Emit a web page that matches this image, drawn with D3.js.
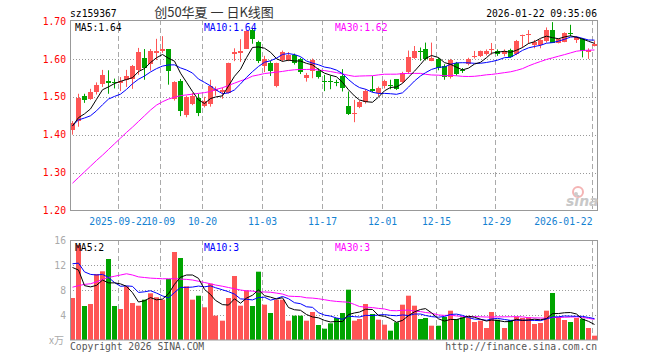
<!DOCTYPE html>
<html>
<head>
<meta charset="UTF-8" />
<script src="https://cdnjs.cloudflare.com/ajax/libs/d3/7.8.5/d3.min.js"></script>
<style>
  body { margin: 0; background: #fff; }
  svg { display: block; }
  text { font-family: "DejaVu Sans Mono", monospace; font-size: 9.7px; }
</style>
</head>
<body>
<svg id="chart" width="660" height="360"></svg>
<script>
// daily candles, index 0 .. 87 (last = 2026-01-22)
const opens = [
  1.412, 1.435, 1.503, 1.495, 1.512, 1.534, 1.543, 1.539, 1.536, 1.544,
  1.547, 1.570, 1.603, 1.586, 1.616, 1.622, 1.625, 1.493, 1.541, 1.453,
  1.481, 1.497, 1.475, 1.480, 1.515, 1.512, 1.509, 1.612, 1.615, 1.626,
  1.677, 1.645, 1.580, 1.590, 1.529, 1.597, 1.598, 1.609, 1.600, 1.550,
  1.568, 1.567, 1.542, 1.542, 1.540, 1.555, 1.477, 1.456, 1.474, 1.486,
  1.521, 1.509, 1.528, 1.532, 1.547, 1.540, 1.565, 1.603, 1.622, 1.625,
  1.595, 1.601, 1.580, 1.552, 1.588, 1.572, 1.587, 1.605, 1.608, 1.612,
  1.624, 1.621, 1.612, 1.623, 1.612, 1.660, 1.663, 1.636, 1.636, 1.648,
  1.677, 1.643, 1.645, 1.668, 1.650, 1.652, 1.617, 1.634
];
const closes = [
  1.432, 1.498, 1.492, 1.513, 1.532, 1.558, 1.536, 1.536, 1.542, 1.556,
  1.582, 1.617, 1.576, 1.620, 1.620, 1.625, 1.567, 1.538, 1.462, 1.500,
  1.502, 1.458, 1.489, 1.528, 1.520, 1.518, 1.588, 1.617, 1.620, 1.673,
  1.653, 1.595, 1.600, 1.567, 1.588, 1.617, 1.611, 1.590, 1.566, 1.557,
  1.597, 1.552, 1.540, 1.539, 1.536, 1.524, 1.454, 1.458, 1.486, 1.514,
  1.516, 1.522, 1.541, 1.530, 1.521, 1.563, 1.604, 1.620, 1.619, 1.599,
  1.603, 1.577, 1.553, 1.597, 1.560, 1.568, 1.600, 1.607, 1.620, 1.621,
  1.627, 1.613, 1.620, 1.606, 1.648, 1.663, 1.666, 1.644, 1.650, 1.677,
  1.643, 1.652, 1.668, 1.665, 1.657, 1.620, 1.623, 1.640
];
const highs = [
  1.436, 1.508, 1.508, 1.521, 1.538, 1.571, 1.570, 1.548, 1.552, 1.571,
  1.584, 1.629, 1.626, 1.626, 1.653, 1.660, 1.625, 1.541, 1.547, 1.503,
  1.510, 1.508, 1.500, 1.545, 1.527, 1.524, 1.590, 1.628, 1.652, 1.676,
  1.682, 1.648, 1.608, 1.595, 1.590, 1.622, 1.618, 1.614, 1.603, 1.563,
  1.601, 1.575, 1.558, 1.556, 1.545, 1.573, 1.514, 1.492, 1.490, 1.520,
  1.555, 1.527, 1.545, 1.545, 1.547, 1.566, 1.622, 1.634, 1.630, 1.643,
  1.643, 1.603, 1.586, 1.600, 1.592, 1.576, 1.603, 1.621, 1.622, 1.625,
  1.642, 1.625, 1.625, 1.627, 1.650, 1.664, 1.676, 1.650, 1.652, 1.683,
  1.697, 1.654, 1.670, 1.690, 1.660, 1.655, 1.628, 1.648
];
const lows = [
  1.400, 1.421, 1.484, 1.492, 1.506, 1.526, 1.508, 1.522, 1.515, 1.526,
  1.521, 1.558, 1.545, 1.569, 1.597, 1.616, 1.532, 1.490, 1.449, 1.446,
  1.478, 1.449, 1.472, 1.474, 1.503, 1.495, 1.509, 1.594, 1.592, 1.626,
  1.640, 1.589, 1.565, 1.555, 1.525, 1.593, 1.594, 1.585, 1.560, 1.540,
  1.549, 1.548, 1.515, 1.520, 1.528, 1.514, 1.452, 1.433, 1.470, 1.482,
  1.512, 1.502, 1.522, 1.520, 1.518, 1.536, 1.560, 1.600, 1.595, 1.596,
  1.594, 1.570, 1.545, 1.548, 1.556, 1.563, 1.583, 1.601, 1.605, 1.609,
  1.611, 1.608, 1.607, 1.603, 1.610, 1.630, 1.640, 1.628, 1.628, 1.643,
  1.642, 1.641, 1.644, 1.660, 1.642, 1.604, 1.600, 1.633
];
// volume, 万手
const volumes = [
  6.72, 15.2, 5.44, 5.76, 10.56, 10.99, 12.96, 5.44, 4.96, 8.59,
  5.92, 5.49, 6.45, 7.47, 6.83, 6.45, 9.76, 14.08, 13.12, 8.59,
  6.45, 7.09, 5.23, 9.01, 3.89, 3.09, 6.72, 10.24, 5.49, 7.95,
  5.44, 10.93, 5.65, 4.32, 6.45, 6.45, 3.09, 3.89, 3.89, 3.09,
  4.48, 2.40, 1.81, 2.67, 3.52, 4.32, 8.05, 3.09, 3.36, 5.76,
  4.16, 3.25, 2.45, 1.49, 2.83, 5.65, 7.09, 5.49, 3.36, 3.52,
  2.29, 2.29, 3.68, 4.69, 3.36, 3.63, 3.63, 2.88, 3.09, 1.92,
  4.48, 3.25, 1.92, 3.20, 3.73, 3.52, 3.63, 2.56, 2.72, 4.69,
  7.52, 3.68, 3.20, 2.88, 3.52, 3.41, 1.92, 0.69
];

// averages before enough history is visible
const ma5Head = [1.423, 1.445, 1.455, 1.468];
const ma10Head = [1.424, 1.439, 1.444, 1.450, 1.463, 1.479, 1.494, 1.501, 1.507];
const ma30Head = [
  1.272, 1.287, 1.302, 1.317, 1.332, 1.346, 1.361, 1.376, 1.391, 1.406,
  1.420, 1.435, 1.450, 1.465, 1.478, 1.487, 1.494, 1.499, 1.503, 1.505,
  1.507, 1.509, 1.511, 1.514, 1.519, 1.524, 1.530, 1.536, 1.542
];
const vma5Head = [11.6, 11.2, 8.7, 8.5];
const vma10Head = [12.2, 12.3, 10.9, 10.5, 10.4, 10.5, 10.0, 9.2, 8.6];
const vma30Head = [
  8.45, 8.7, 8.9, 9.0, 9.3, 9.7, 10.0, 10.2, 10.4, 10.6,
  10.4, 10.1, 10.0, 9.9, 9.85, 9.8, 9.8, 9.8, 9.75, 9.7,
  9.6, 9.4, 9.2, 9.0, 8.8, 8.6, 8.4, 8.2, 8.0
];

const tickIdx = [8, 15, 22, 32, 42, 52, 61, 71, 87];
const tickLabels = ["2025-09-22", "10-09", "10-20", "11-03", "11-17", "12-01", "12-15", "12-29", "2026-01-22"];
const priceTicks = [1.2, 1.3, 1.4, 1.5, 1.6, 1.7];
const volTicks = [4, 8, 12, 16];

const RED = "#ff5555", GREEN = "#00a400";

function movingAvg(values, n, head) {
  return values.map((v, i) => i < n - 1 ? head[i] : d3.mean(values.slice(i - n + 1, i + 1)));
}

const ma5 = movingAvg(closes, 5, ma5Head);
const ma10 = movingAvg(closes, 10, ma10Head);
const ma30 = movingAvg(closes, 30, ma30Head);
const vma5 = movingAvg(volumes, 5, vma5Head);
const vma10 = movingAvg(volumes, 10, vma10Head);
const vma30 = movingAvg(volumes, 30, vma30Head);

const svg = d3.select("#chart");
const n = closes.length;

const x = d3.scaleLinear().domain([0, n]).range([70, 598]);
const y = d3.scaleLinear().domain([1.2, 1.7]).range([210.5, 21]);
const yv = d3.scaleLinear().domain([0, 16]).range([340, 240]);

const px = (i) => Math.floor(x(i)) + 0.5;

// grid
const grid = svg.append("g");
grid.selectAll(".hg")
  .data([1.3, 1.4, 1.5, 1.6])
  .enter().append("line")
  .attr("x1", 70).attr("x2", 597)
  .attr("y1", d => Math.round(y(d)) + 0.5).attr("y2", d => Math.round(y(d)) + 0.5)
  .style("stroke", "#999").style("stroke-dasharray", "1,2");
grid.selectAll(".hv")
  .data([4, 8, 12])
  .enter().append("line")
  .attr("x1", 70).attr("x2", 597)
  .attr("y1", d => Math.round(yv(d)) + 0.5).attr("y2", d => Math.round(yv(d)) + 0.5)
  .style("stroke", "#999").style("stroke-dasharray", "1,2");
[[20, 211], [240, 340]].forEach(([t, b]) => {
  grid.selectAll(null)
    .data(tickIdx)
    .enter().append("line")
    .attr("x1", d => px(d)).attr("x2", d => px(d))
    .attr("y1", t).attr("y2", b)
    .style("stroke", "#aaa").style("stroke-dasharray", "5,3");
});

// candles
const candles = svg.append("g");
closes.forEach((c, i) => {
  const o = opens[i];
  const col = c >= o ? RED : GREEN;
  const cx = Math.floor(x(i)) + 2.5;
  candles.append("line")
    .attr("x1", cx).attr("x2", cx)
    .attr("y1", y(highs[i])).attr("y2", y(lows[i]))
    .style("stroke", col);
  const top = Math.round(y(Math.max(o, c)));
  const bot = Math.round(y(Math.min(o, c)));
  candles.append("rect")
    .attr("x", Math.floor(x(i))).attr("width", 5)
    .attr("y", top).attr("height", Math.max(1, bot - top))
    .style("fill", col);
});

// volume bars
svg.append("g").selectAll("rect")
  .data(volumes)
  .enter().append("rect")
  .attr("x", (d, i) => Math.floor(x(i)))
  .attr("width", 5)
  .attr("y", d => yv(d))
  .attr("height", d => 340 - yv(d))
  .style("fill", (d, i) => closes[i] >= opens[i] ? RED : GREEN);

// MA lines
function drawLine(vals, scale, color) {
  svg.append("path")
    .datum(vals)
    .attr("d", d3.line().x((d, i) => Math.floor(x(i)) + 2.5).y(d => scale(d)))
    .style("fill", "none")
    .style("stroke", color)
    .style("stroke-width", 1);
}
drawLine(ma30, y, "#ff00ff");
drawLine(ma10, y, "#0000ff");
drawLine(ma5, y, "#000");
drawLine(vma30, yv, "#ff00ff");
drawLine(vma10, yv, "#0000ff");
drawLine(vma5, yv, "#000");

// frames
svg.append("rect").attr("x", 70.5).attr("y", 20.5).attr("width", 527).attr("height", 190)
  .style("fill", "none").style("stroke", "#999");
svg.append("rect").attr("x", 70.5).attr("y", 240.5).attr("width", 527).attr("height", 99.5)
  .style("fill", "none").style("stroke", "#999");

// axes
const yAxis = svg.append("g")
  .attr("transform", "translate(70,0)")
  .call(d3.axisLeft(y).tickValues(priceTicks).tickFormat(d3.format(".2f")).tickSize(0).tickPadding(4));
yAxis.select(".domain").remove();
yAxis.selectAll("text").style("fill", "#f00").style("font-family", "DejaVu Sans Mono").style("font-size", "9.7px");

const vAxis = svg.append("g")
  .attr("transform", "translate(70,0)")
  .call(d3.axisLeft(yv).tickValues(volTicks).tickSize(0).tickPadding(4));
vAxis.select(".domain").remove();
vAxis.selectAll("text").style("fill", "#aaa").style("font-family", "DejaVu Sans Mono").style("font-size", "9.7px");

const xAxis = svg.append("g")
  .attr("transform", "translate(0,211)")
  .call(d3.axisBottom(x).tickValues(tickIdx).tickFormat((d, i) => tickLabels[i]).tickSize(0).tickPadding(7));
xAxis.select(".domain").remove();
xAxis.selectAll("text").style("fill", "#1482d2").style("font-family", "DejaVu Sans Mono").style("font-size", "9.7px");
xAxis.selectAll("text").filter((d, i) => i === tickIdx.length - 1).attr("text-anchor", "end");

// texts
function label(t, tx, ty, color, anchor) {
  svg.append("text").attr("x", tx).attr("y", ty)
    .attr("text-anchor", anchor || "start")
    .style("fill", color).text(t);
}
label("sz159367", 70, 17, "#000");
label("2026-01-22 09:35:06", 597, 17, "#000", "end");
svg.append("text").attr("x", 214).attr("y", 17).attr("text-anchor", "middle")
  .style("font-family", "Noto Sans CJK SC").style("font-size", "13px").style("fill", "#333")
  .text("创50华夏 一 日K线图");
label("MA5:1.64", 75, 31, "#000");
label("MA10:1.64", 204, 31, "#0000ff");
label("MA30:1.62", 335, 31, "#ff00ff");
label("MA5:2", 75, 251, "#000");
label("MA10:3", 204, 251, "#0000ff");
label("MA30:3", 335, 251, "#ff00ff");
label("Copyright 2026 SINA.COM", 70, 350, "#555");
label("http://finance.sina.com.cn", 597, 350, "#555", "end");
svg.append("text").attr("x", 64).attr("y", 344).attr("text-anchor", "end")
  .style("font-family", "Noto Sans CJK SC").style("font-size", "10px").style("fill", "#aaa")
  .text("x万");

// sina watermark
const logo = svg.append("g").attr("transform", "translate(566,186)");
logo.append("circle").attr("cx", 12).attr("cy", 6).attr("r", 5)
  .style("fill", "none").style("stroke", "#f4b4b4").style("stroke-width", 2);
logo.append("circle").attr("cx", 10).attr("cy", 8).attr("r", 2).style("fill", "#ccc");
logo.append("text").attr("x", 0).attr("y", 20)
  .style("font-family", "DejaVu Sans").style("font-size", "14px").style("font-weight", "bold")
  .style("font-style", "italic").style("fill", "#c8c8c8").text("sina");
</script>
</body>
</html>
